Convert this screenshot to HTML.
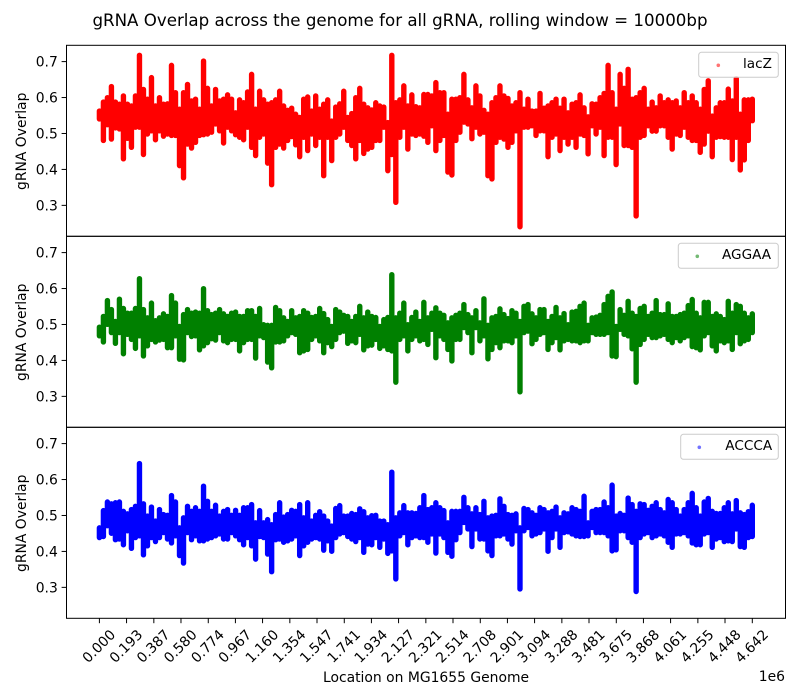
<!DOCTYPE html>
<html lang="en">
<head>
<meta charset="utf-8">
<title>gRNA Overlap across the genome</title>
<style>
html,body{margin:0;padding:0;background:#fff;}
svg{display:block;font-family:"DejaVu Sans","Liberation Sans",sans-serif;fill:#000;}
</style>
</head>
<body>
<svg id="chart" xmlns="http://www.w3.org/2000/svg" width="800" height="700" viewBox="0 0 800 700">
<rect x="0" y="0" width="800" height="700" fill="#fff"/>
<text x="400" y="26" font-size="16.67" text-anchor="middle">gRNA Overlap across the genome for all gRNA, rolling window = 10000bp</text>
<text x="426" y="682" font-size="13.9" text-anchor="middle">Location on MG1655 Genome</text>
<text x="785" y="681" font-size="13.9" text-anchor="end">1e6</text>
</svg>
<script>
const genomeLength = 4642000;
const xTickLabels = ["0.000","0.193","0.387","0.580","0.774","0.967","1.160","1.354","1.547","1.741","1.934","2.127","2.321","2.514","2.708","2.901","3.094","3.288","3.481","3.675","3.868","4.061","4.255","4.448","4.642"];
const yTickValues = [0.3,0.4,0.5,0.6,0.7];
const seriesNames = ["lacZ","AGGAA","ACCCA"];

const lacZHigh = [
.570,.595,.607,.638,.595,.589,.612,.589,.584,.612,
.725,.630,.603,.663,.584,.607,.589,.590,.697,.621,
.575,.621,.644,.598,.603,.575,.709,.633,.584,.630,
.598,.603,.615,.603,.565,.601,.593,.623,.672,.575,
.625,.601,.589,.593,.601,.625,.584,.572,.578,.561,
.552,.603,.609,.570,.612,.575,.589,.601,.542,.581,
.590,.625,.552,.563,.607,.633,.589,.579,.573,.593,
.584,.581,.538,.725,.593,.601,.640,.584,.615,.582,
.579,.616,.616,
.612,.649,.621,.621,.561,.603,.603,
.607,.672,.601,.579,.640,.612,.572,.561,.593,.607,
.640,.612,.605,.584,.593,.621,.575,.603,.570,.570,
.619,.578,.584,.593,.603,.578,.603,.565,.589,.593,
.615,.579,.554,.590,.589,.607,.619,.697,.621,.575,
.672,.633,.686,.603,.607,.621,.633,.575,.595,.579,
.612,.593,.601,.593,.598,.579,.621,.593,.612,.593,
.575,.630,.654,.556,.579,.593,.593,.631,.598,.660,
.561,.601,.601,.603];
const lacZLow = [
.533,.473,.517,.477,.508,.505,.422,.479,.454,.510,
.510,.434,.491,.500,.475,.500,.485,.491,.487,.487,
.403,.369,.463,.452,.468,.487,.489,.491,.496,.519,
.500,.466,.510,.500,.489,.482,.475,.510,.454,.431,
.482,.491,.410,.350,.454,.463,.452,.473,.484,.461,
.428,.482,.445,.491,.459,.482,.375,.482,.417,.482,
.491,.510,.473,.459,.422,.473,.437,.449,.454,.473,
.473,.510,.389,.434,.301,.482,.510,.449,.491,.487,
.491,.485,.468,
.514,.445,.473,.487,.385,.377,.473,
.496,.524,.519,.478,.510,.491,.496,.375,.366,.468,
.482,.477,.454,.468,.500,.233,.510,.510,.514,.487,
.500,.500,.428,.482,.491,.445,.482,.463,.482,.454,
.491,.487,.436,.514,.491,.510,.431,.482,.482,.406,
.519,.459,.459,.454,.263,.482,.487,.514,.499,.499,
.514,.514,.482,.449,.491,.487,.510,.482,.473,.473,
.440,.463,.499,.428,.482,.484,.482,.482,.420,.482,
.391,.419,.473,.528];

const aggaaHigh = [
.500,.530,.574,.549,.516,.578,.552,.539,.539,.552,
.635,.549,.526,.567,.518,.526,.537,.530,.588,.567,
.502,.535,.549,.539,.542,.539,.607,.546,.535,.539,
.549,.537,.530,.539,.542,.530,.530,.546,.546,.530,
.552,.507,.505,.505,.555,.546,.526,.516,.546,.526,
.530,.546,.539,.527,.530,.552,.538,.521,.502,.549,
.542,.533,.530,.516,.530,.558,.526,.542,.530,.527,
.502,.521,.527,.646,.526,.539,.567,.507,.527,.542,
.516,.569,.526,
.539,.554,.539,.533,.512,.526,.533,
.539,.563,.535,.526,.546,.512,.579,.505,.526,.530,
.551,.535,.524,.546,.539,.516,.558,.563,.537,.526,
.549,.549,.516,.530,.555,.526,.538,.507,.542,.544,
.558,.567,.505,.526,.528,.533,.563,.586,.598,.502,
.549,.533,.572,.539,.530,.552,.558,.530,.539,.574,
.535,.535,.565,.530,.530,.535,.539,.560,.577,.539,
.526,.569,.569,.530,.537,.530,.521,.572,.539,.563,
.558,.539,.526,.537];
const aggaaLow = [
.461,.444,.493,.470,.440,.470,.411,.465,.451,.426,
.461,.405,.433,.451,.444,.449,.451,.428,.428,.461,
.396,.394,.470,.459,.461,.422,.433,.442,.453,.449,
.470,.447,.442,.451,.451,.419,.442,.451,.451,.399,
.461,.456,.388,.372,.444,.444,.447,.461,.470,.465,
.414,.419,.423,.451,.461,.447,.414,.442,.431,.451,
.470,.474,.440,.447,.442,.465,.422,.433,.435,.451,
.426,.433,.423,.419,.332,.451,.461,.419,.451,.461,
.447,.451,.437,
.479,.400,.461,.451,.423,.391,.451,
.451,.484,.470,.414,.484,.447,.461,.397,.423,.442,
.428,.447,.447,.442,.461,.305,.470,.474,.439,.451,
.465,.470,.423,.442,.456,.422,.447,.451,.447,.447,
.442,.447,.447,.470,.465,.465,.465,.470,.405,.403,
.479,.465,.461,.425,.332,.437,.451,.465,.456,.456,
.461,.465,.451,.442,.456,.447,.456,.461,.431,.428,
.422,.461,.470,.433,.419,.447,.442,.447,.423,.470,
.439,.447,.451,.470];

const acccaHigh = [
.473,.521,.545,.540,.543,.545,.519,.512,.524,.533,
.652,.540,.506,.531,.492,.524,.510,.508,.563,.545,
.473,.501,.533,.519,.529,.519,.589,.547,.519,.536,
.506,.519,.524,.508,.522,.508,.529,.529,.538,.487,
.521,.487,.496,.482,.510,.543,.503,.510,.522,.519,
.538,.501,.543,.492,.508,.518,.506,.492,.478,.527,
.535,.506,.506,.513,.510,.526,.518,.501,.507,.508,
.492,.492,.482,.628,.501,.515,.535,.515,.515,.513,
.529,.563,.524,
.529,.543,.529,.521,.487,.519,.519,
.519,.558,.529,.512,.529,.510,.547,.501,.506,.508,
.554,.533,.510,.508,.512,.473,.527,.524,.515,.508,
.529,.524,.515,.519,.531,.501,.515,.512,.529,.524,
.519,.561,.487,.519,.524,.524,.545,.529,.592,.506,
.513,.508,.556,.538,.519,.540,.538,.522,.533,.543,
.524,.515,.552,.543,.524,.506,.524,.543,.569,.529,
.506,.545,.555,.519,.513,.513,.529,.543,.512,.549,
.515,.510,.518,.536];
const acccaLow = [
.431,.434,.464,.443,.425,.427,.411,.450,.401,.431,
.436,.383,.408,.431,.420,.431,.445,.427,.416,.436,
.381,.360,.445,.425,.436,.422,.422,.427,.431,.436,
.441,.427,.427,.445,.436,.425,.411,.431,.408,.371,
.434,.431,.385,.336,.425,.427,.418,.422,.427,.436,
.381,.408,.418,.427,.431,.427,.396,.422,.393,.431,
.441,.445,.434,.427,.420,.431,.390,.413,.411,.431,
.404,.427,.387,.394,.316,.436,.445,.411,.431,.436,
.431,.431,.418,
.441,.388,.441,.431,.390,.379,.425,
.445,.473,.455,.406,.455,.427,.427,.394,.381,.436,
.436,.441,.427,.413,.450,.288,.450,.459,.436,.441,
.445,.455,.393,.431,.455,.404,.445,.447,.441,.436,
.434,.434,.436,.459,.445,.445,.445,.436,.394,.397,
.450,.450,.431,.418,.281,.431,.441,.445,.431,.436,
.441,.436,.418,.404,.441,.441,.445,.436,.416,.411,
.411,.441,.445,.404,.427,.431,.420,.422,.420,.455,
.406,.404,.431,.434];

const NS = "http://www.w3.org/2000/svg";
const svg = document.getElementById("chart");
const plotLeft = 66.5, plotRight = 785.5, panelHeight = 191;
const panelTops = [45.3, 236.3, 427.3];
const panelHighs = [lacZHigh, aggaaHigh, acccaHigh];
const panelLows = [lacZLow, aggaaLow, acccaLow];
const panelColors = ["#ff0000", "#008000", "#0000ff"];
const legendLefts = [698.7, 678.3, 680.7];
const legendMarkerX = [718.3, 697.3, 699.3];
const legendTextX = [743, 722, 725.3];

function xScale(bp) { return 99.4 + bp / genomeLength * 652.9; }
function yScale(value, top) { return top + 16.3 + (0.7 - value) * 359.4; }
function node(tag, parent) {
  const el = document.createElementNS(NS, tag);
  parent.appendChild(el);
  return el;
}

panelTops.forEach(function (top, p) {
  const key = seriesNames[p].toLowerCase();
  const g = node("g", svg);
  
  

  const highs = panelHighs[p], lows = panelLows[p];
  const count = highs.length;
  const halfWidth = 2.7;
  let d = "";
  for (let i = 0; i < count; i++) {
    const x = xScale(i / (count - 1) * genomeLength).toFixed(2);
    d += "M" + x + " " + (yScale(highs[i], top) + halfWidth).toFixed(2) +
         "L" + x + " " + (yScale(lows[i], top) - halfWidth).toFixed(2);
  }
  const series = node("path", g);
  
  
  series.setAttribute("d", d);
  series.setAttribute("fill", "none");
  series.setAttribute("stroke", panelColors[p]);
  series.setAttribute("stroke-width", 2 * halfWidth);
  series.setAttribute("stroke-linecap", "round");

  const frame = node("rect", g);
  
  
  frame.setAttribute("x", plotLeft);
  frame.setAttribute("y", top);
  frame.setAttribute("width", plotRight - plotLeft);
  frame.setAttribute("height", panelHeight);
  frame.setAttribute("fill", "none");
  frame.setAttribute("stroke", "#000");
  frame.setAttribute("stroke-width", "1");

  yTickValues.forEach(function (v) {
    const y = yScale(v, top);
    const tick = node("line", g);
    
    
    tick.setAttribute("x1", plotLeft - 4.9);
    tick.setAttribute("x2", plotLeft);
    tick.setAttribute("y1", y);
    tick.setAttribute("y2", y);
    tick.setAttribute("stroke", "#000");
    tick.setAttribute("stroke-width", "1");
    const label = node("text", g);
    
    
    label.setAttribute("x", plotLeft - 8.7);
    label.setAttribute("y", y + 5);
    label.setAttribute("font-size", "13.9");
    label.setAttribute("text-anchor", "end");
    label.textContent = v.toFixed(1);
  });

  const cy = top + panelHeight / 2;
  const yTitle = node("text", g);
  
  
  yTitle.setAttribute("transform", "translate(26," + (cy + 0.5) + ") rotate(-90)");
  yTitle.setAttribute("font-size", "13.9");
  yTitle.setAttribute("text-anchor", "middle");
  yTitle.textContent = "gRNA Overlap";

  const legend = node("g", g);
  
  
  const box = node("rect", legend);
  
  
  box.setAttribute("x", legendLefts[p]);
  box.setAttribute("y", top + 7);
  box.setAttribute("width", 778.3 - legendLefts[p]);
  box.setAttribute("height", 25);
  box.setAttribute("rx", "2.8");
  box.setAttribute("fill", "#fff");
  box.setAttribute("fill-opacity", "0.8");
  box.setAttribute("stroke", "#ccc");
  box.setAttribute("stroke-width", "1");
  const swatch = node("circle", legend);
  
  
  swatch.setAttribute("cx", legendMarkerX[p]);
  swatch.setAttribute("cy", top + 20);
  swatch.setAttribute("r", "1.8");
  swatch.setAttribute("fill", panelColors[p]);
  swatch.setAttribute("fill-opacity", "0.55");
  const entry = node("text", legend);
  
  
  entry.setAttribute("x", legendTextX[p]);
  entry.setAttribute("y", top + 22.5);
  entry.setAttribute("font-size", "13.6");
  entry.textContent = seriesNames[p];
});

const baseline = panelTops[2] + panelHeight;
xTickLabels.forEach(function (text) {
  const x = xScale(parseFloat(text) * 1e6);
  const tick = node("line", svg);
  
  
  tick.setAttribute("x1", x);
  tick.setAttribute("x2", x);
  tick.setAttribute("y1", baseline);
  tick.setAttribute("y2", baseline + 4.9);
  tick.setAttribute("stroke", "#000");
  tick.setAttribute("stroke-width", "1");
  const label = node("text", svg);
  
  
  label.setAttribute("transform", "translate(" + (x - 0.8) + ",646) rotate(-45)");
  label.setAttribute("y", "5");
  label.setAttribute("font-size", "13.9");
  label.setAttribute("text-anchor", "middle");
  label.textContent = text;
});
</script>
</body>
</html>
